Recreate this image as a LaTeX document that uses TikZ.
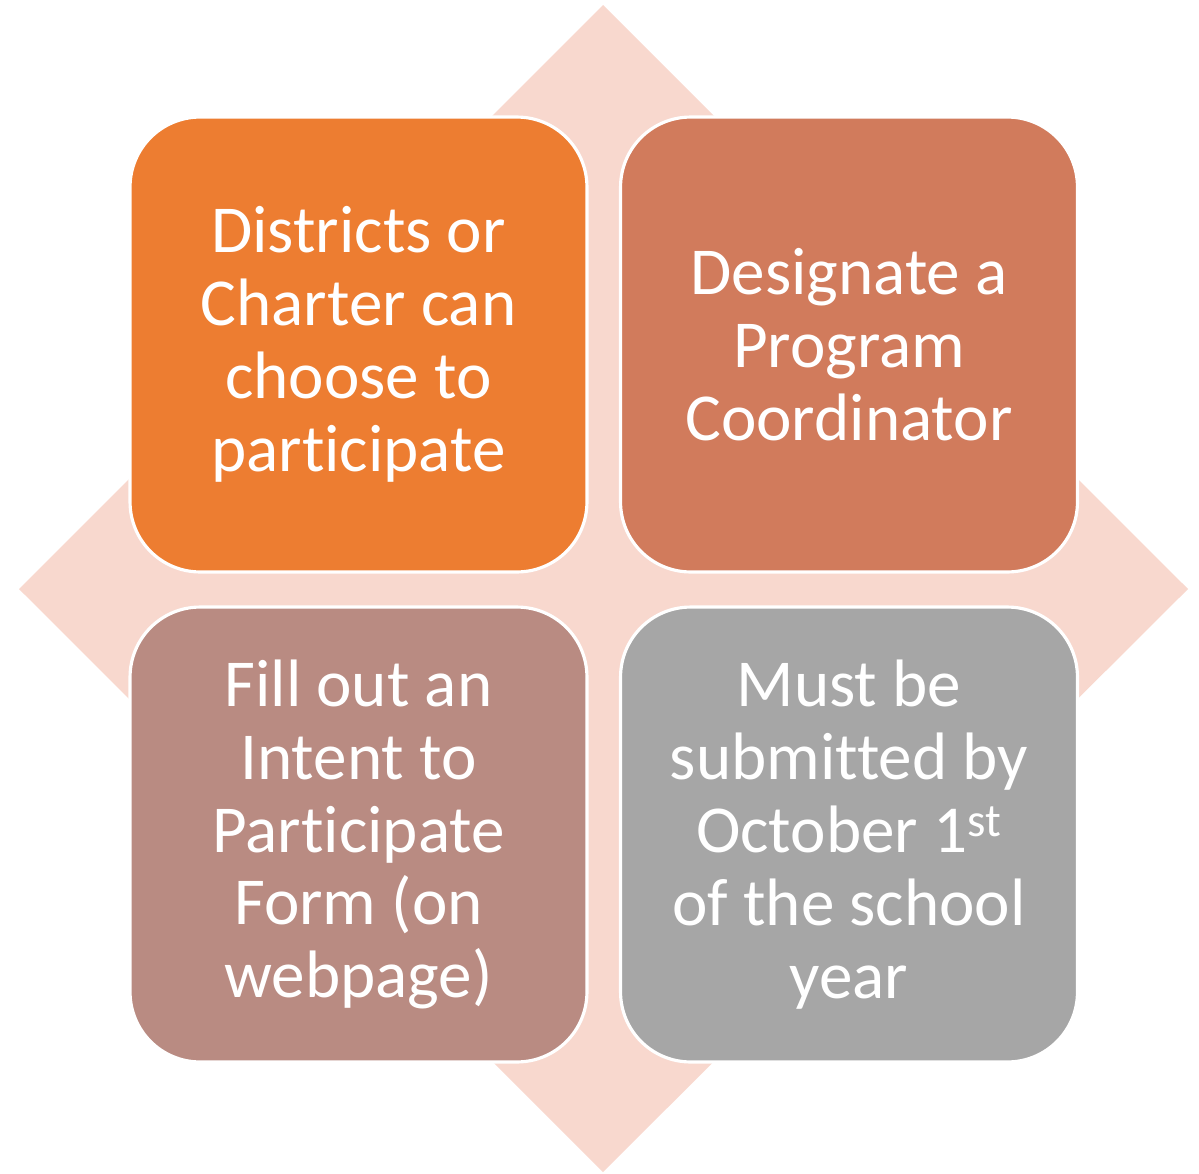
\documentclass[tikz,border=0pt]{standalone}
\usepackage{fontspec}
\setmainfont[Ligatures=NoCommon]{Carlito}
\definecolor{diamondpink}{RGB}{248,216,206}
\definecolor{steporange}{RGB}{237,125,49}
\definecolor{stepcoral}{RGB}{209,123,92}
\definecolor{steprose}{RGB}{185,139,130}
\definecolor{stepgray}{RGB}{166,166,166}
\begin{document}
\begin{tikzpicture}[x=0.02cm,y=-0.02cm,
  stepbox/.style={draw=white,line width=1.8pt,rounded corners=1.4cm,
    minimum width=9.14cm,minimum height=9.1cm,align=center,text=white,
    font=\fontsize{38.2}{41.5}\selectfont}]
\useasboundingbox (0,0) rectangle (1199,1173);
% background diamond
\fill[diamondpink] (603,5) -- (1188,589) -- (603,1172) -- (19,589) -- cycle;
% the four steps
\node[stepbox,fill=steporange] (choose) at (358.5,344.5)
  {Districts or\\Charter can\\choose to\\participate};
\node[stepbox,fill=stepcoral] (coord) at (849,344.5)
  {Designate a\\Program\\Coordinator};
\node[stepbox,fill=steprose] (form) at (358.5,834.5)
  {Fill out an\\Intent to\\Participate\\Form (on\\webpage)};
\node[stepbox,fill=stepgray] (deadline) at (849,834.5)
  {Must be\\submitted by\\October 1\textsuperscript{st}\\of the school\\year};
\end{tikzpicture}
\end{document}
